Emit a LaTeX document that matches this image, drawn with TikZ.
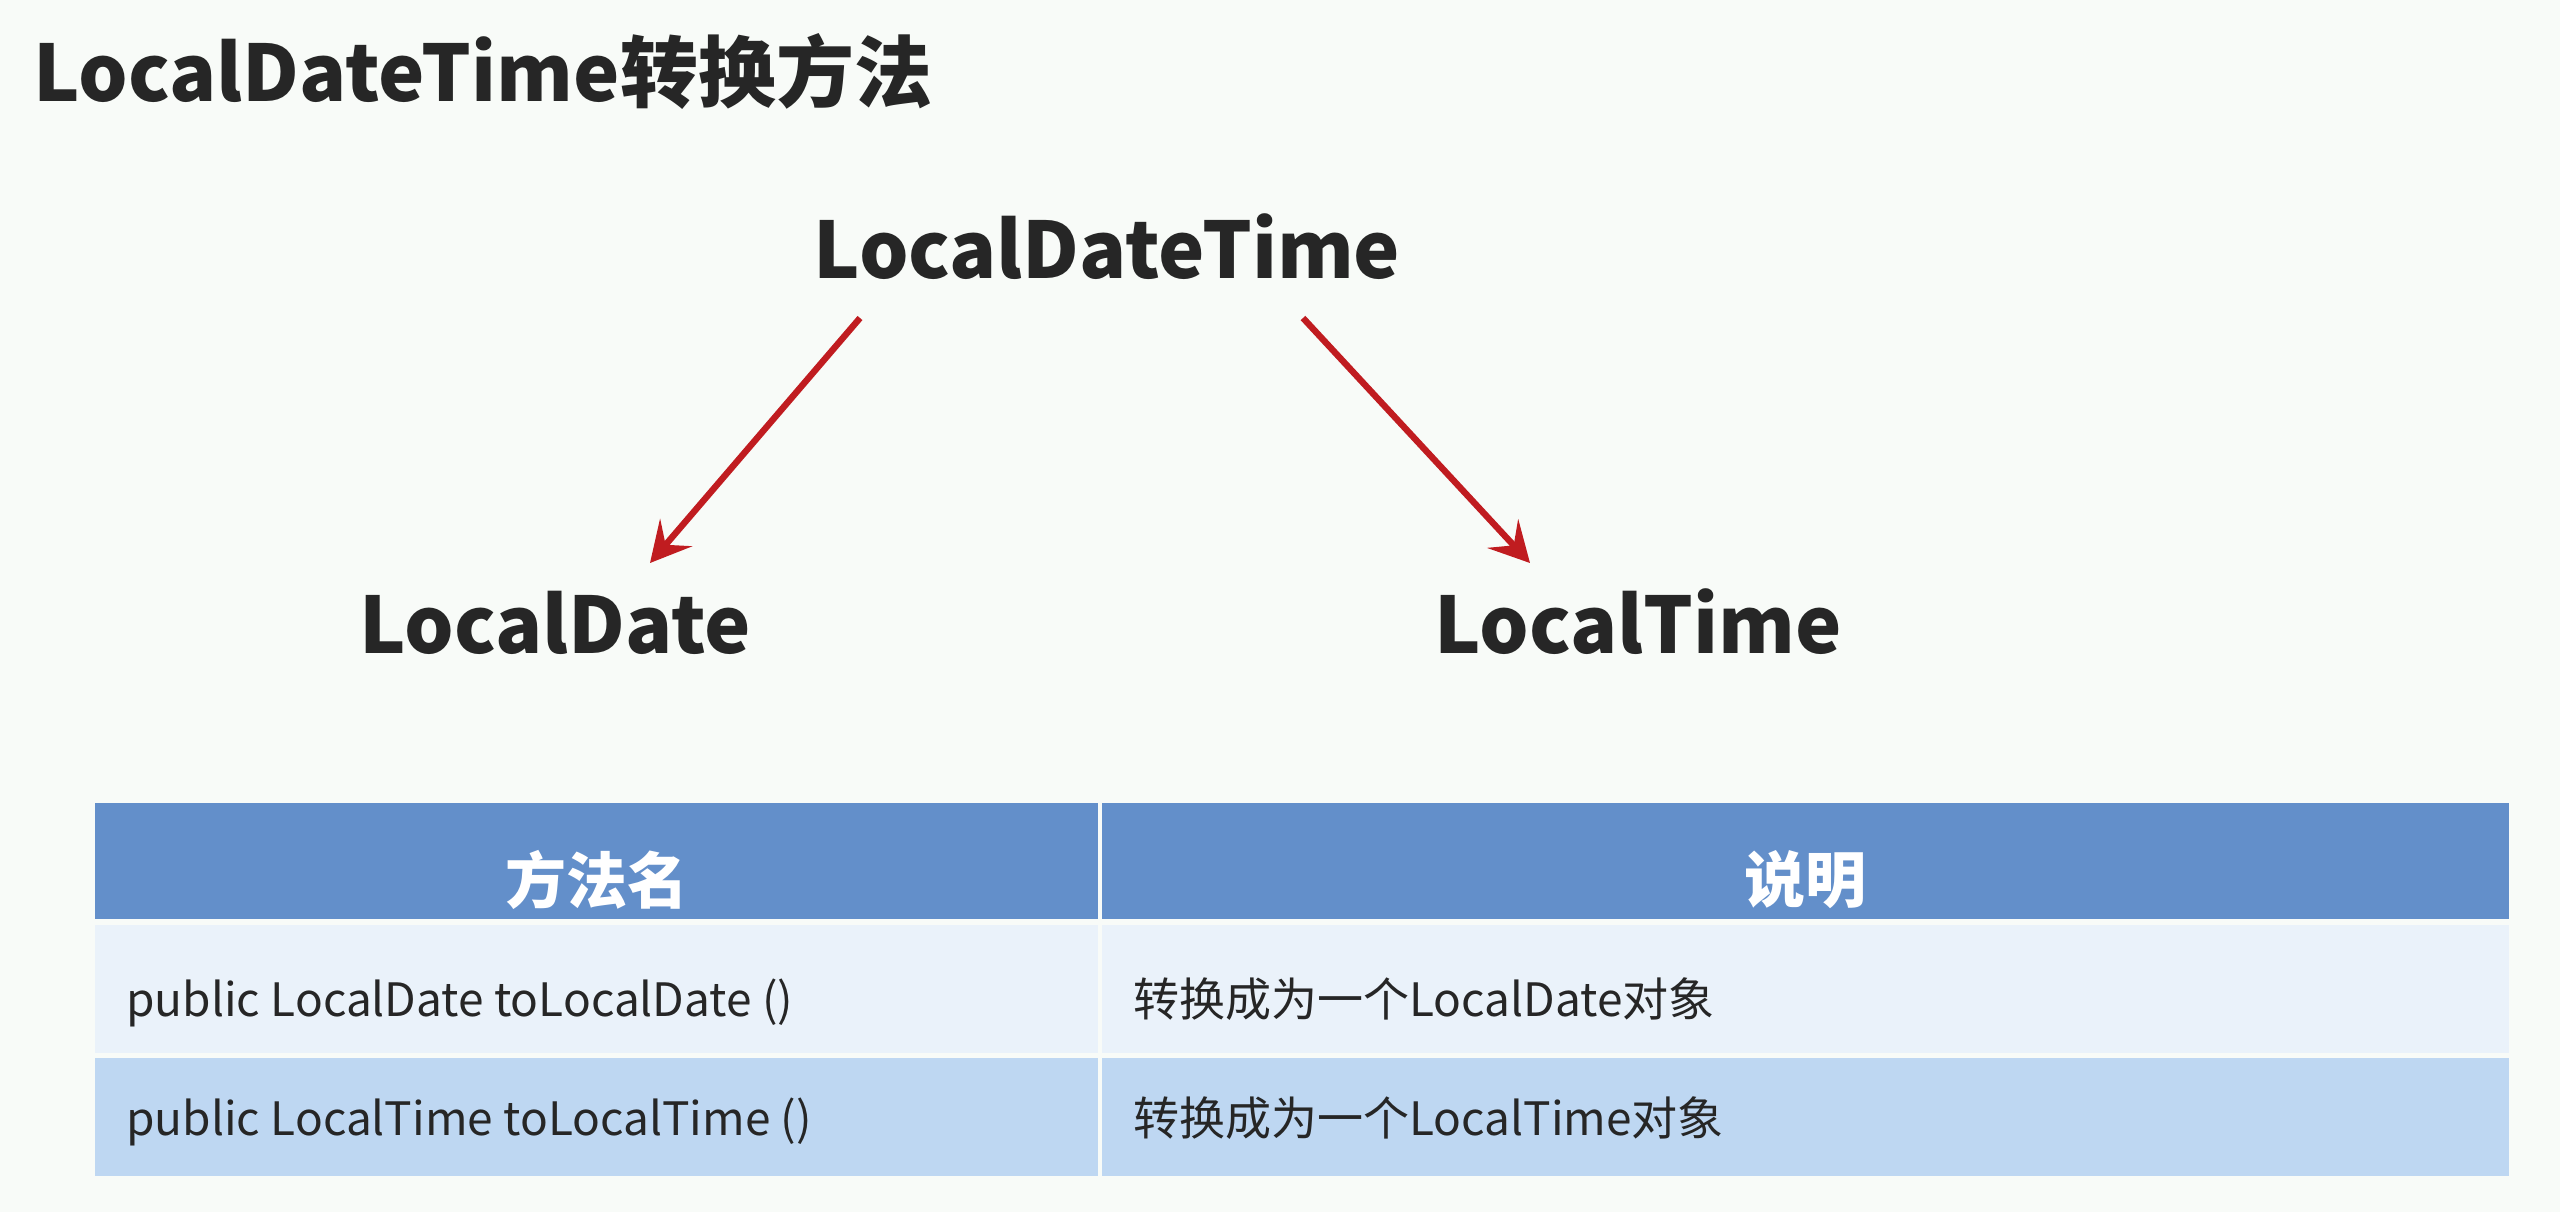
\documentclass[tikz,border=0pt]{standalone}
\usepackage{fontspec}
\setmainfont{Noto Sans CJK SC}
\usetikzlibrary{arrows.meta}
\definecolor{bg}{RGB}{248,251,248}
\definecolor{ink}{RGB}{38,38,38}
\definecolor{arrowred}{RGB}{192,28,32}
\definecolor{headblue}{RGB}{99,143,202}
\definecolor{rowlight}{RGB}{234,242,250}
\definecolor{rowmid}{RGB}{190,215,242}
\begin{document}
\begin{tikzpicture}[x=0.5pt,y=-0.5pt,
  big/.style={font=\fontsize{39}{45}\selectfont\bfseries, text=ink, inner sep=0pt},
  hdr/.style={font=\fontsize{30.5}{36}\selectfont\bfseries, text=white, inner sep=0pt},
  cell/.style={font=\fontsize{23}{28}\selectfont, text=ink, inner sep=0pt, anchor=base west},
  conv/.style={draw=arrowred, line width=3.2pt, -{Stealth[length=20pt,width=21pt,inset=8pt]}}
]
\useasboundingbox (0,0) rectangle (2560,1212);
\fill[bg] (0,0) rectangle (2560,1212);

% title and the three types
\node[big, anchor=base west] (title) at (33,101) {LocalDateTime转换方法};
\node[big, anchor=base] (ldt) at (1107,278) {LocalDateTime};
\node[big, anchor=base] (ld) at (555,653) {LocalDate};
\node[big, anchor=base] (lt) at (1638,653) {LocalTime};

% conversion arrows
\coordinate (ldtL) at (860,318);
\coordinate (ldTip) at (650,563);
\coordinate (ldtR) at (1303,318);
\coordinate (ltTip) at (1530,563);
\draw[conv] (ldtL) -- (ldTip);
\draw[conv] (ldtR) -- (ltTip);

% method table
\fill[headblue] (95,803) rectangle (1098,919);
\fill[headblue] (1102,803) rectangle (2509,919);
\fill[rowlight] (95,925) rectangle (1098,1053);
\fill[rowlight] (1102,925) rectangle (2509,1053);
\fill[rowmid] (95,1058) rectangle (1098,1176);
\fill[rowmid] (1102,1058) rectangle (2509,1176);

\node[hdr] (h1) at (597,880) {方法名};
\node[hdr] (h2) at (1805,880) {说明};
\node[cell] (m1) at (126,1016) {public LocalDate toLocalDate ()};
\node[cell] (d1) at (1133,1016) {转换成为一个LocalDate对象};
\node[cell] (m2) at (126,1135) {public LocalTime toLocalTime ()};
\node[cell] (d2) at (1133,1135) {转换成为一个LocalTime对象};
\end{tikzpicture}
\end{document}
